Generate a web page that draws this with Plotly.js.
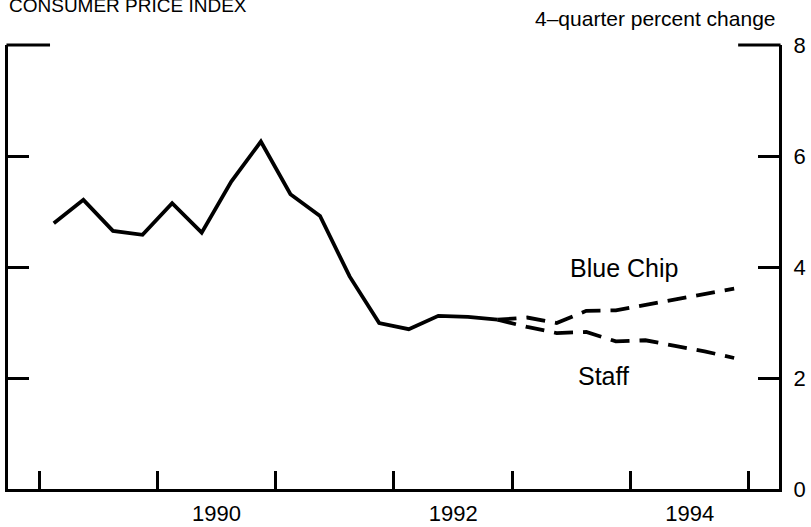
<!DOCTYPE html>
<html>
<head>
<meta charset="utf-8">
<script src="https://cdn.plot.ly/plotly-3.0.1.min.js"></script>
<style>html,body{margin:0;padding:0;background:#fff;}#chart{width:811px;height:527px;}</style>
</head>
<body>
<div id="chart"></div>
<script>
// Quarters (year, quarter) for actual CPI data
const actualYears    = [1989,1989,1989,1989,1990,1990,1990,1990,1991,1991,1991,1991,1992,1992,1992,1992];
const actualQuarters = [1,2,3,4,1,2,3,4,1,2,3,4,1,2,3,4];
const actualValues   = [4.79,5.21,4.65,4.58,5.15,4.62,5.54,6.26,5.31,4.92,3.83,2.99,2.88,3.12,3.10,3.05];

// Forecast quarters (start at 1992 Q4)
const fcYears    = [1992,1993,1993,1993,1993,1994,1994,1994,1994];
const fcQuarters = [4,1,2,3,4,1,2,3,4];
const blueChipValues = [3.05,3.09,2.99,3.21,3.22,3.32,3.41,3.51,3.61];
const staffValues    = [3.05,2.92,2.81,2.83,2.66,2.68,2.58,2.48,2.36];

const yearTicks   = [1989,1990,1991,1992,1993,1994,1995];
const yearLabels  = ['1990','1992','1994'];
const yTicks      = [0,2,4,6,8];

const qpos = (y,q) => y + (q - 0.5) / 4;
const ax = actualYears.map((y,i) => qpos(y, actualQuarters[i]));
const fx = fcYears.map((y,i) => qpos(y, fcQuarters[i]));
const labelPos = yearLabels.map(s => Number(s) + 0.5);

const font = 'Liberation Sans, Arial, Helvetica, sans-serif';

const traces = [
  {x: ax, y: actualValues, mode: 'lines', line: {color: '#000', width: 3.8}, hoverinfo: 'skip', showlegend: false},
  {x: fx, y: blueChipValues, mode: 'lines', line: {color: '#000', width: 3.8, dash: '19px,10px'}, hoverinfo: 'skip', showlegend: false},
  {x: fx, y: staffValues, mode: 'lines', line: {color: '#000', width: 3.8, dash: '19px,10px'}, hoverinfo: 'skip', showlegend: false},
  {x: ax, y: actualValues, xaxis: 'x2', mode: 'lines', opacity: 0, hoverinfo: 'skip', showlegend: false}
];

const layout = {
  width: 811, height: 527,
  margin: {l: 8, r: 32, t: 45, b: 38, pad: 0},
  paper_bgcolor: '#fff', plot_bgcolor: '#fff',
  font: {family: font, color: '#000', size: 22},
  xaxis: {
    range: [1988.738, 1995.254],
    tickvals: yearTicks, ticktext: yearTicks.map(() => ''),
    ticks: 'inside', ticklen: 18, tickwidth: 3, tickcolor: '#000',
    showline: true, linewidth: 3, linecolor: '#000', mirror: false,
    showgrid: false, zeroline: false, fixedrange: true
  },
  xaxis2: {
    overlaying: 'x', matches: 'x', side: 'bottom',
    tickvals: labelPos, ticktext: yearLabels,
    ticks: '', showline: false, showgrid: false, zeroline: false,
    ticklabelstandoff: 9,
    tickfont: {size: 22, family: font, color: '#000'}
  },
  yaxis: {
    range: [0, 8], side: 'right',
    tickvals: yTicks, ticktext: yTicks.map(String),
    ticks: 'inside', ticklen: 21, tickwidth: 3, tickcolor: '#000',
    showline: true, linewidth: 3, linecolor: '#000', mirror: 'ticks',
    showgrid: false, zeroline: false, fixedrange: true,
    ticklabelstandoff: 7,
    tickfont: {size: 22, family: font, color: '#000'}
  },
  shapes: [
    {type: 'line', xref: 'paper', yref: 'paper', x0: -0.002, x1: 0.0545, y0: 1, y1: 1, line: {color: '#000', width: 3}},
    {type: 'line', xref: 'paper', yref: 'paper', x0: 0.947, x1: 1.002, y0: 1, y1: 1, line: {color: '#000', width: 3}}
  ],
  annotations: [
    {text: 'CONSUMER PRICE INDEX', xref: 'paper', yref: 'paper', x: -0.001, y: 1.0597, xanchor: 'left', yanchor: 'bottom', showarrow: false, font: {size: 19, family: font, color: '#000'}},
    {text: '4–quarter percent change', xref: 'paper', yref: 'paper', x: 0.999, y: 1.029, xanchor: 'right', yanchor: 'bottom', showarrow: false, font: {size: 21, family: font, color: '#000'}},
    {text: 'Blue Chip', x: 1993.94, y: 3.98, xanchor: 'center', yanchor: 'middle', showarrow: false, font: {size: 25, family: font, color: '#000'}},
    {text: 'Staff', x: 1993.77, y: 2.04, xanchor: 'center', yanchor: 'middle', showarrow: false, font: {size: 25, family: font, color: '#000'}}
  ]
};

Plotly.newPlot('chart', traces, layout, {staticPlot: true, displayModeBar: false});
</script>
</body>
</html>
